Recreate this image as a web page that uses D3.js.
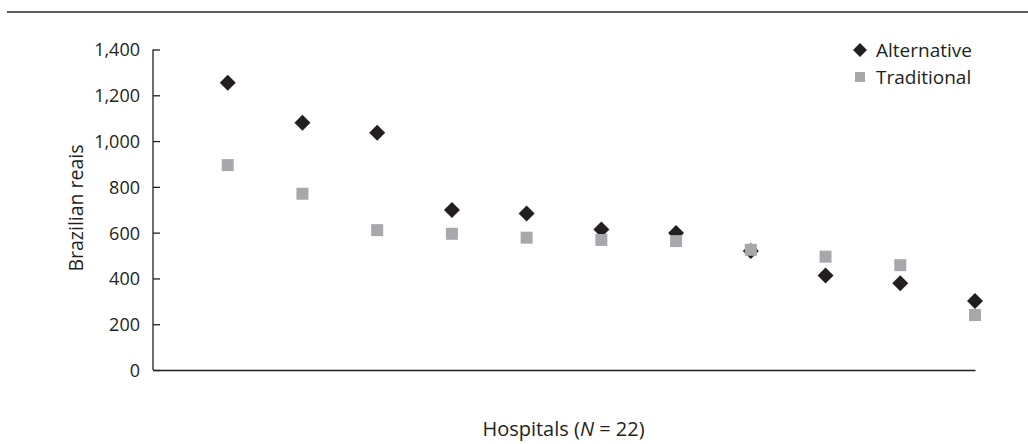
<!DOCTYPE html>
<html>
<head>
<meta charset="utf-8">
<script src="https://cdn.jsdelivr.net/npm/d3@7"></script>
<style>
  html, body { margin: 0; padding: 0; background: #fff; }
  svg { display: block; }
  text { font-family: "Open Sans", Lato, sans-serif; fill: #231f20; }
</style>
</head>
<body>
<svg id="chart" width="1028" height="444"></svg>
<script>
// Cost per hospital, in Brazilian reais, sorted by the alternative figure
const hospitals = [1, 2, 3, 4, 5, 6, 7, 8, 9, 10, 11];
const alternative = [1255, 1080, 1036, 699, 684, 614, 598, 520, 413, 379, 301];
const traditional = [895, 770, 611, 595, 578, 568, 563, 525, 495, 458, 240];
const yTicks = [0, 200, 400, 600, 800, 1000, 1200, 1400];
const seriesNames = ["Alternative", "Traditional"];
const xTitle = "Hospitals";
const xTitleN = "N";
const xTitleRest = " = 22)";
const yTitle = "Brazilian reais";

const svg = d3.select("#chart");
const plotLeft = 153, plotRight = 975, plotTop = 49.5, plotBottom = 370;
const fontFamily = "'Open Sans', Lato, sans-serif";

const x = d3.scaleLinear().domain([0, hospitals.length]).range([plotLeft, plotRight]);
const y = d3.scaleLinear().domain([0, 1400]).range([plotBottom, plotTop]);

// rule across the top of the figure
svg.append("line")
  .attr("x1", 7).attr("x2", 1028).attr("y1", 12).attr("y2", 12)
  .attr("stroke", "#5e5e5e").attr("stroke-width", 2);

// y axis with inward ticks
const yAxis = d3.axisLeft(y).tickValues(yTicks).tickSize(-7).tickPadding(13)
  .tickFormat(d3.format(","));
const gy = svg.append("g").attr("transform", `translate(${plotLeft},0)`).call(yAxis);
gy.select(".domain").attr("stroke", "#231f20").attr("stroke-width", 1.3)
  .attr("d", `M0,${plotTop}V${plotBottom}`);
gy.selectAll(".tick line").attr("stroke", "#231f20").attr("stroke-width", 1.3);
gy.selectAll(".tick text").attr("font-size", 18).attr("fill", "#231f20")
  .attr("font-family", fontFamily).attr("dy", "0.36em");

// x axis baseline, no ticks
const xAxis = d3.axisBottom(x).tickValues([]).tickSizeOuter(0);
const gx = svg.append("g").attr("transform", `translate(0,${plotBottom})`).call(xAxis);
gx.select(".domain").attr("stroke", "#231f20").attr("stroke-width", 1.5);

// markers: diamonds first, grey squares drawn over them
const diamond = d3.symbol().type(d3.symbolSquare).size(128);
const square = d3.symbol().type(d3.symbolSquare).size(144);

svg.append("g").selectAll("path.alt")
  .data(hospitals)
  .join("path")
  .attr("class", "alt")
  .attr("d", diamond)
  .attr("fill", "#231f20")
  .attr("transform", (d, i) => `translate(${x(d)},${y(alternative[i])}) rotate(45)`);

svg.append("g").selectAll("path.trad")
  .data(hospitals)
  .join("path")
  .attr("class", "trad")
  .attr("d", square)
  .attr("fill", "#a7a8ab")
  .attr("transform", (d, i) => `translate(${x(d)},${y(traditional[i])})`);

// legend
const lg = svg.append("g");
lg.append("path").attr("d", d3.symbol().type(d3.symbolSquare).size(98))
  .attr("fill", "#231f20").attr("transform", "translate(860,50) rotate(45)");
lg.append("text").attr("x", 876).attr("y", 56.5).attr("font-size", 19).text(seriesNames[0]);
lg.append("path").attr("d", d3.symbol().type(d3.symbolSquare).size(100))
  .attr("fill", "#a7a8ab").attr("transform", "translate(860,77)");
lg.append("text").attr("x", 876).attr("y", 84).attr("font-size", 19).text(seriesNames[1]);

// axis titles
const xt = svg.append("text").attr("x", 563.5).attr("y", 436)
  .attr("text-anchor", "middle").attr("font-size", 20);
xt.append("tspan").text(xTitle + " (");
xt.append("tspan").attr("font-style", "italic").text(xTitleN);
xt.append("tspan").text(xTitleRest);

svg.append("text")
  .attr("transform", "translate(83,208) rotate(-90)")
  .attr("text-anchor", "middle").attr("font-size", 19.5)
  .text(yTitle);
</script>
</body>
</html>
